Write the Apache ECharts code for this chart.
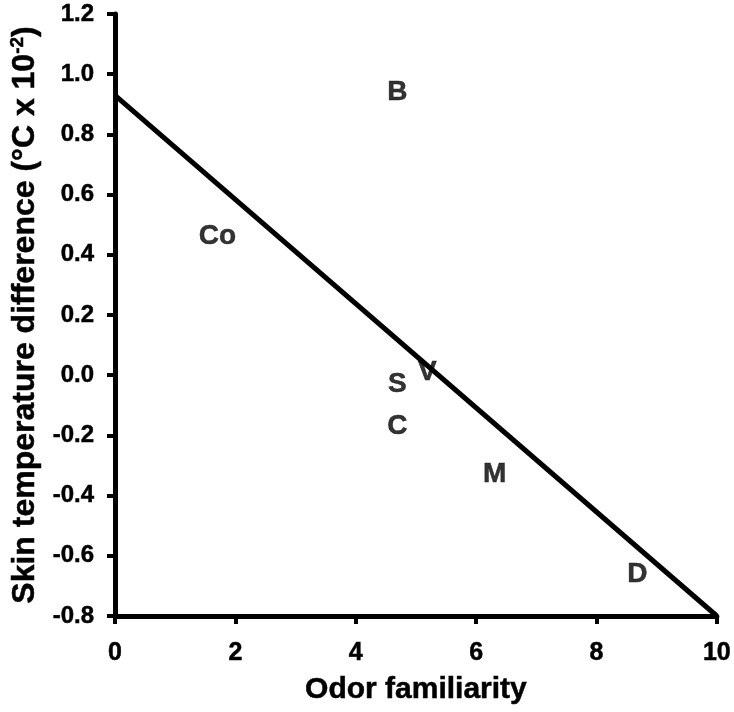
<!DOCTYPE html>
<html>
<head>
<meta charset="utf-8">
<script src="https://cdn.jsdelivr.net/npm/echarts@6/dist/echarts.min.js"></script>
<style>html,body{margin:0;padding:0;background:#fff;}#c{width:734px;height:712px;}</style>
</head>
<body>
<div id="c"></div>
<script>
const odorLabels = ['B', 'Co', 'S', 'V', 'C', 'M', 'D'];
const familiarity = [4.69, 1.70, 4.69, 5.19, 4.69, 6.31, 8.68];
const tempDiff = [0.94, 0.46, -0.03, 0.01, -0.17, -0.33, -0.66];
const fitX = [0, 10];
const fitY = [0.93, -0.80];
const xTicks = [0, 2, 4, 6, 8, 10];
const yTicks = [-0.8, -0.6, -0.4, -0.2, 0.0, 0.2, 0.4, 0.6, 0.8, 1.0, 1.2];

const FONT = '"Liberation Sans", Arial, sans-serif';
const chart = echarts.init(document.getElementById('c'));
const axisCommon = {
  axisLine: { show: true, onZero: false, lineStyle: { color: '#000', width: 5 } },
  axisTick: { show: true, length: 8, lineStyle: { color: '#000', width: 4 } },
  splitLine: { show: false },
};
const bold = { fontFamily: FONT, fontWeight: 'bold', color: '#000', textBorderColor: '#000', textBorderWidth: 0.5 };
chart.setOption({
  animation: false,
  grid: { left: 113, right: 16, top: 14, bottom: 96, containLabel: false },
  xAxis: Object.assign({
    type: 'value', min: 0, max: 10, interval: 2,
    name: 'Odor familiarity', nameLocation: 'middle', nameGap: 59,
    nameTextStyle: Object.assign({ fontSize: 30 }, bold),
    axisLabel: Object.assign({ margin: 25, fontSize: 25,
      formatter: v => xTicks.includes(v) ? String(v) : '' }, bold),
  }, axisCommon),
  yAxis: Object.assign({
    type: 'value', min: -0.8, max: 1.2, interval: 0.2,
    name: '{a|Skin temperature difference (°C x 10}{s|-2}{a|)}',
    nameLocation: 'middle', nameGap: 69, nameRotate: 90,
    nameTextStyle: { fontFamily: FONT, color: '#000',
      rich: {
        a: Object.assign({ fontSize: 32, lineHeight: 34 }, bold),
        s: Object.assign({ fontSize: 19, verticalAlign: 'top', lineHeight: 34, padding: [0, 0, 14, 0] }, bold)
      } },
    axisLabel: Object.assign({ margin: 21, fontSize: 24,
      formatter: v => {
        const t = yTicks.find(k => Math.abs(k - v) < 1e-6);
        return t === undefined ? '' : t.toFixed(1);
      } }, bold),
  }, axisCommon),
  series: [
    {
      type: 'line',
      data: fitX.map((x, i) => [x, fitY[i]]),
      symbol: 'none',
      lineStyle: { color: '#000', width: 5 },
      z: 2
    },
    {
      type: 'scatter',
      data: familiarity.map((x, i) => ({ value: [x, tempDiff[i]], name: odorLabels[i] })),
      symbolSize: 0,
      label: Object.assign({ show: true, position: 'inside', formatter: p => p.name, fontSize: 28 }, bold),
      z: 3
    }
  ]
});
</script>
</body>
</html>
